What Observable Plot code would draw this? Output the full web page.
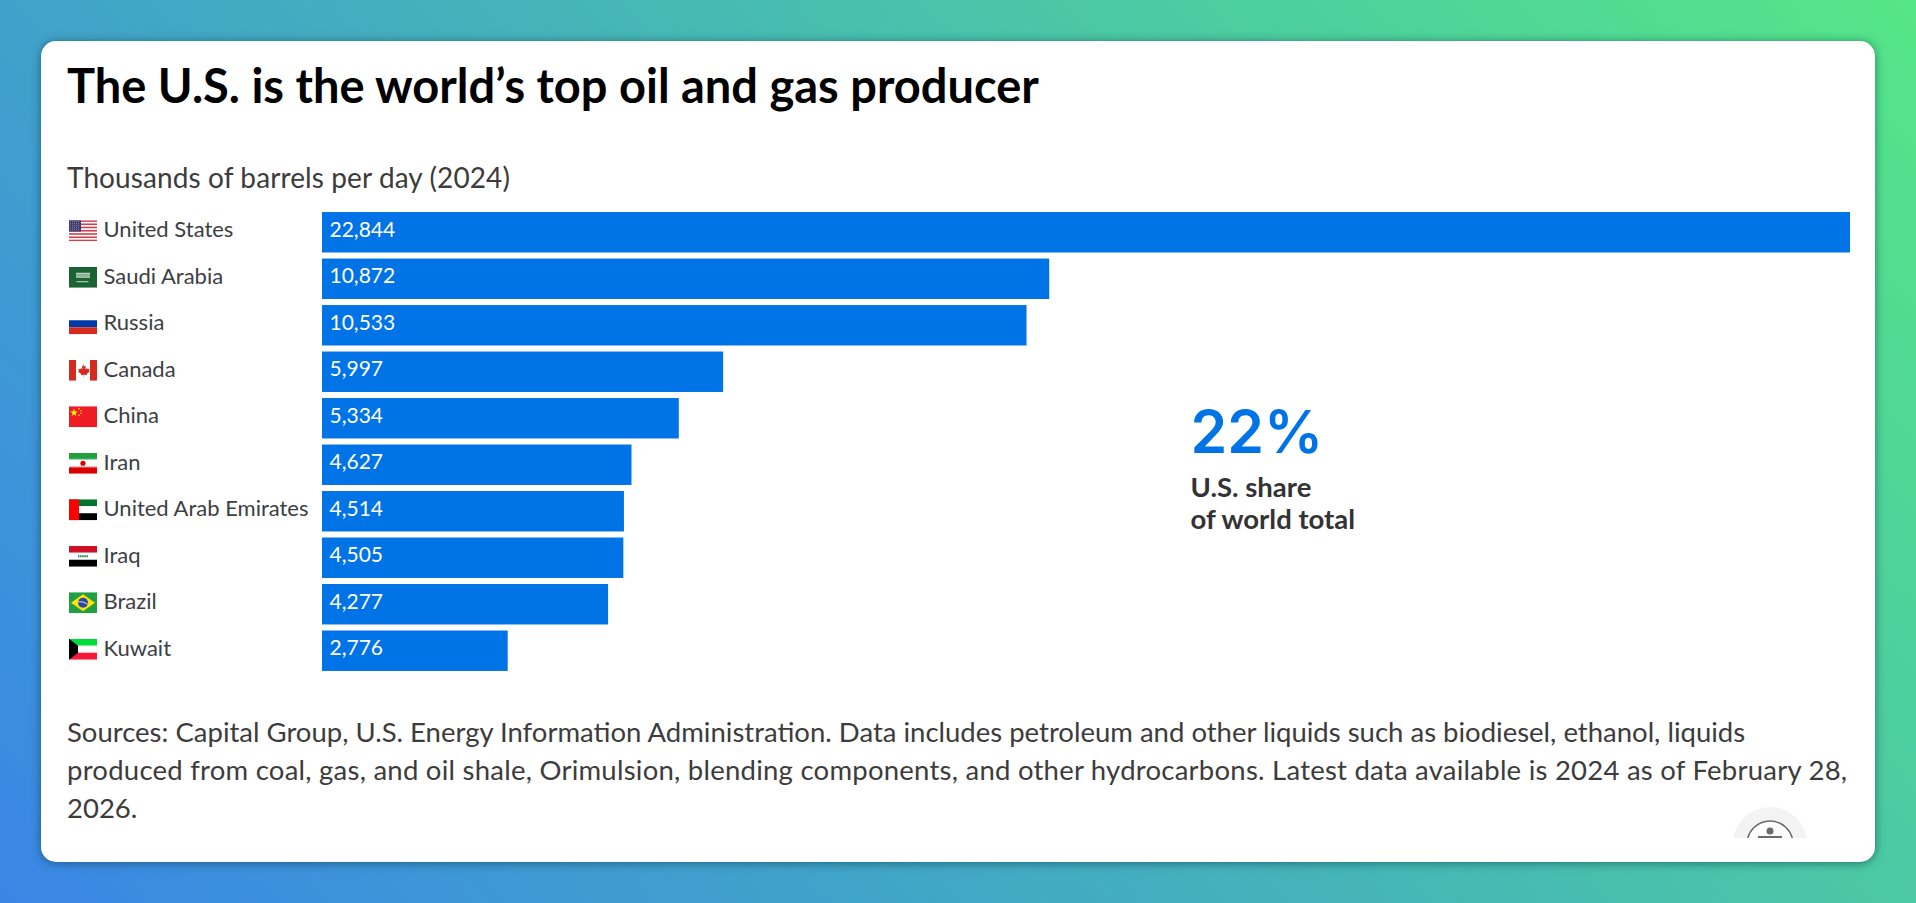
<!DOCTYPE html>
<html>
<head>
<meta charset="utf-8">
<script src="https://cdn.jsdelivr.net/npm/d3@7"></script>
<script src="https://cdn.jsdelivr.net/npm/@observablehq/plot@0.6"></script>
<style>
html,body{margin:0;padding:0;width:1916px;height:903px;overflow:hidden;font-family:Lato,sans-serif}
body{background:linear-gradient(48deg,#3a86e6 0%,#45b5b8 50%,#55e687 100%)}
#card{position:absolute;left:41px;top:41px;width:1834px;height:821px;background:#fff;border-radius:15px;box-shadow:0 1px 10px rgba(0,50,60,.55);overflow:hidden}
#title{position:absolute;left:26px;top:14px;margin:0;font:700 47px/60px Lato,sans-serif;color:#000;white-space:nowrap}
#sub{position:absolute;left:26px;top:116px;font:400 28px/40px Lato,sans-serif;letter-spacing:.1px;color:#3c3c3c;white-space:nowrap}
#chart{position:absolute;left:0;top:159px}
#chart svg{display:block}
#cap{position:absolute;left:26px;top:672px;font:400 27.5px/38px Lato,sans-serif;color:#3c3c3c;white-space:nowrap}
#cap .l2{letter-spacing:.24px}
#a11y{position:absolute;left:1692px;top:766px;width:74px;height:31px;overflow:hidden}
</style>
</head>
<body>
<div id="card">
  <h1 id="title">The U.S. is the world’s top oil and gas producer</h1>
  <div id="sub">Thousands of barrels per day (2024)</div>
  <div id="chart"></div>
  <div id="cap">Sources: Capital Group, U.S. Energy Information Administration. Data includes petroleum and other liquids such as biodiesel, ethanol, liquids<br><span class="l2">produced from coal, gas, and oil shale, Orimulsion, blending components, and other hydrocarbons. Latest data available is 2024 as of February 28,</span><br>2026.</div>
  <div id="a11y"><svg width="74" height="74" viewBox="0 0 74 74"><circle cx="37" cy="37" r="37" fill="#f3f3f3"/><circle cx="37" cy="37" r="23" fill="#fff" stroke="#6b6b6b" stroke-width="1.5"/><circle cx="37" cy="24" r="3.5" fill="#6b6b6b"/><rect x="25" y="29" width="24" height="2.5" fill="#6b6b6b"/></svg></div>
</div>
<script>
const countries = ["United States","Saudi Arabia","Russia","Canada","China","Iran","United Arab Emirates","Iraq","Brazil","Kuwait"];
const production = [22844,10872,10533,5997,5334,4627,4514,4505,4277,2776];
const share = "22%";
const shareLines = ["U.S. share","of world total"];

const svg = b => "data:image/svg+xml," + encodeURIComponent(`<svg xmlns="http://www.w3.org/2000/svg" viewBox="0 0 28 21" preserveAspectRatio="none">${b}</svg>`);
const usStripes = [0,3.2,6.4,9.7,12.9,16.2,19.4].map(y=>`<rect y="${y}" width="28" height="1.6" fill="#c9434f"/>`).join("");
const flagShapes = [
  `<rect width="28" height="21" fill="#fff"/>${usStripes}<rect width="12" height="11.3" fill="#3c3b6e"/><path d="M1 1.5h10M1 3.5h10M1 5.5h10M1 7.5h10M1 9.5h10" stroke="#9c9cc0" stroke-width=".8" stroke-dasharray="1 1"/>`,
  `<rect width="28" height="21" fill="#1a6332"/><path d="M7 6h14v5H7z" fill="#e8efe9" opacity=".85"/><path d="M8 7v3M10 7v3M12 7v3M14 7v3M16 7v3M18 7v3M20 7v3" stroke="#1a6332" stroke-width=".7"/><path d="M7.500 15h12" stroke="#dfe9e1" stroke-width=".9"/>`,
  `<rect width="28" height="7" fill="#fff"/><rect y="7" width="28" height="7" fill="#0039a6"/><rect y="14" width="28" height="7" fill="#d52b1e"/>`,
  `<rect width="28" height="21" fill="#fff"/><rect width="7" height="21" fill="#d52b1e"/><rect x="21" width="7" height="21" fill="#d52b1e"/><path d="M14 4l1.500 2.800 1.400-.7-.6 3.400 1.700-1.300.5 1.300 2-.4-.6 2.200.8.500-3 2.500.3 1-2.900-.4v2.600h-.4v-2.600l-2.900.4.300-1-3-2.500.8-.5-.6-2.200 2 .4.500-1.300 1.700 1.300-.6-3.400 1.400.7z" fill="#d52b1e"/>`,
  `<rect width="28" height="21" fill="#ee1c25"/><path d="M5 2.500l.9 2.800h2.900l-2.300 1.700.9 2.800L5 8.100 2.600 9.800l.9-2.800-2.300-1.700h2.900z" fill="#ffff00"/><circle cx="10" cy="2.500" r=".7" fill="#ff0"/><circle cx="12" cy="4.500" r=".7" fill="#ff0"/><circle cx="12" cy="7" r=".7" fill="#ff0"/><circle cx="10" cy="9" r=".7" fill="#ff0"/>`,
  `<rect width="28" height="7" fill="#239f40"/><rect y="7" width="28" height="7" fill="#fff"/><rect y="14" width="28" height="7" fill="#da0000"/><path d="M0 6.500h28" stroke="#cde9d4" stroke-width=".9" stroke-dasharray="1 .6"/><path d="M0 14.500h28" stroke="#f4c4c4" stroke-width=".9" stroke-dasharray="1 .6"/><circle cx="14" cy="10.500" r="2.600" fill="#da0000"/>`,
  `<rect width="28" height="7" fill="#00732f"/><rect y="7" width="28" height="7" fill="#fff"/><rect y="14" width="28" height="7" fill="#000"/><rect width="10" height="21" fill="#ff0000"/>`,
  `<rect width="28" height="7" fill="#ce1126"/><rect y="7" width="28" height="7" fill="#fff"/><rect y="14" width="28" height="7" fill="#000"/><path d="M9 10.500h10" stroke="#007a3d" stroke-width="1.800" stroke-dasharray="1.400 .7"/>`,
  `<rect width="28" height="21" fill="#229e45"/><path d="M14 2L26 10.500 14 19 2 10.500z" fill="#f8e509"/><circle cx="14" cy="10.500" r="5" fill="#2b49a3"/><path d="M9.200 9.500q5-.6 9.500 2.400" stroke="#fff" stroke-width=".8" fill="none"/>`,
  `<rect width="28" height="7" fill="#00dd3c"/><rect y="7" width="28" height="7" fill="#fff"/><rect y="14" width="28" height="7" fill="#f7193a"/><path d="M0 0L9 7V14L0 21z" fill="#000"/>`
];
const flags = flagShapes.map(svg);
const rows = countries.map((name,i)=>({name,value:production[i],flag:flags[i]}));

const chart = Plot.plot({
  width:1834, height:483, marginLeft:281, marginRight:25, marginTop:6, marginBottom:6,
  style:{fontFamily:"Lato, sans-serif", fontSize:"22px", color:"#3c4043", background:"transparent", overflow:"visible"},
  x:{domain:[0,22844], axis:null},
  y:{domain:countries, padding:0.13, round:false, label:null},
  marks:[
    Plot.axisY({tickSize:0, tickPadding:0, textAnchor:"start", dx:-219, dy:-2.5, fontVariant:"normal", label:null, fill:"#3c4043"}),
    Plot.image(rows,{y:"name", src:"flag", frameAnchor:"left", dx:-239.5, dy:-2, width:28, height:21}),
    Plot.barX(rows,{x:"value", y:"name", fill:"#0073e6"}),
    Plot.text(rows,{x:0, y:"name", text:d=>d3.format(",")(d.value), textAnchor:"start", dx:7, dy:-2.5, fill:"#fff", fontSize:21}),
    Plot.text([share],{frameAnchor:"top-left", dx:868, dy:205, fill:"#0073e6", fontSize:59, fontFamily:"Inter, Lato, sans-serif", fontWeight:600, lineAnchor:"top", textAnchor:"start"}),
    ...shareLines.map((t,i)=>Plot.text([t],{frameAnchor:"top-left", dx:868, dy:271+i*32, fontSize:27.5, fontWeight:700, fill:"#333", lineAnchor:"top", textAnchor:"start"}))
  ]
});
document.getElementById("chart").appendChild(chart);
</script>
</body>
</html>
